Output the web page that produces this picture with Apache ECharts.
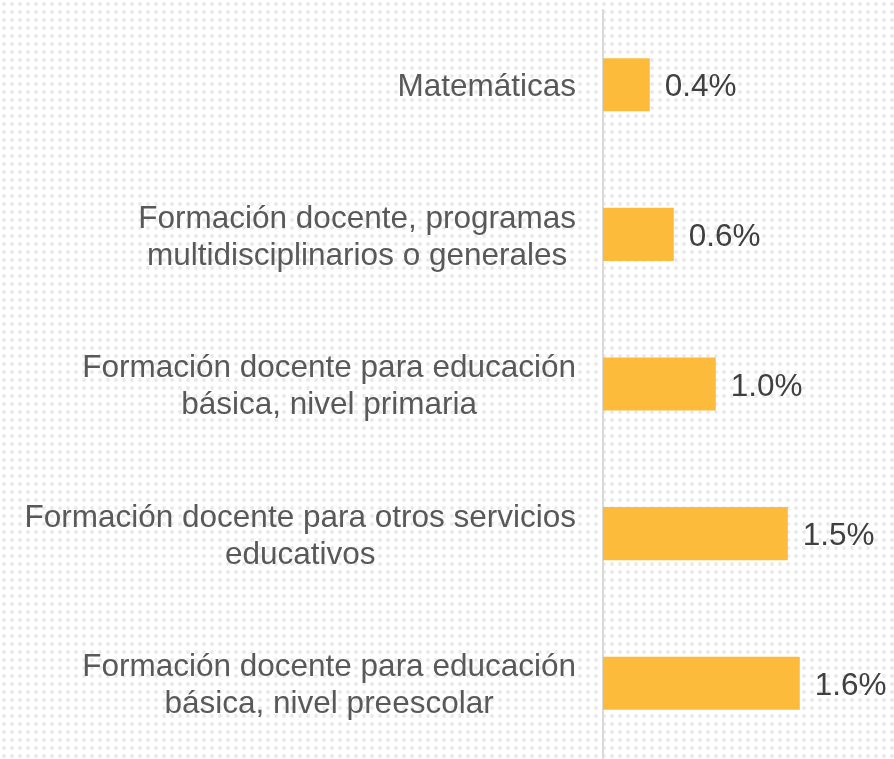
<!DOCTYPE html>
<html>
<head>
<meta charset="utf-8">
<script src="https://cdn.jsdelivr.net/npm/echarts@6/dist/echarts.min.js"></script>
<style>
  html, body { margin: 0; padding: 0; background: #fff; }
  #chart { width: 894px; height: 759px; }
</style>
</head>
<body>
<div id="chart"></div>
<script>
// categories, top to bottom
const categories = [
  "Matemáticas",
  "Formación docente, programas\nmultidisciplinarios o generales",
  "Formación docente para educación\nbásica, nivel primaria",
  "Formación docente para otros servicios\neducativos",
  "Formación docente para educación\nbásica, nivel preescolar",
];
// bar lengths (%)
const values = [0.39, 0.59, 0.94, 1.54, 1.64];
// value labels as printed
const valueLabels = ["0.4%", "0.6%", "1.0%", "1.5%", "1.6%"];

// dotted background
const dots = document.createElement("canvas");
dots.width = 8;
dots.height = 8;
const dctx = dots.getContext("2d");
dctx.fillStyle = "#fff";
dctx.fillRect(0, 0, 8, 8);
dctx.fillStyle = "#e8e8e8";
dctx.beginPath();
dctx.arc(4, 4, 1.9, 0, Math.PI * 2);
dctx.fill();

const font = "'Liberation Sans', Arial, sans-serif";
const myChart = echarts.init(document.getElementById("chart"));
const option = {
  backgroundColor: { image: dots, repeat: "repeat" },
  animation: false,
  grid: { left: 603, top: 10, width: 240, height: 748 },
  xAxis: {
    type: "value",
    min: 0,
    max: 2,
    show: false,
  },
  yAxis: {
    type: "category",
    inverse: true,
    data: categories,
    axisLine: { show: true, lineStyle: { color: "#d9d9d9", width: 2 } },
    axisTick: { show: false },
    axisLabel: {
      margin: 27,
      padding: [6, 0, 0, 0],
      fontFamily: font,
      formatter: (v) =>
        v.split("\n").map((l) => "{c|" + l + "}").join("\n"),
      rich: {
        c: {
          align: "center",
          fontSize: 31.5,
          lineHeight: 37,
          color: "#595959",
          fontFamily: font,
        },
      },
    },
  },
  series: [
    {
      type: "bar",
      data: values,
      barWidth: "35.5%",
      itemStyle: { color: "#FCBB3A" },
      label: {
        show: true,
        position: "right",
        distance: 15,
        offset: [0, 3],
        fontSize: 31.5,
        color: "#404040",
        fontFamily: font,
        formatter: (p) => valueLabels[p.dataIndex],
      },
    },
  ],
};
myChart.setOption(option);
</script>
</body>
</html>
